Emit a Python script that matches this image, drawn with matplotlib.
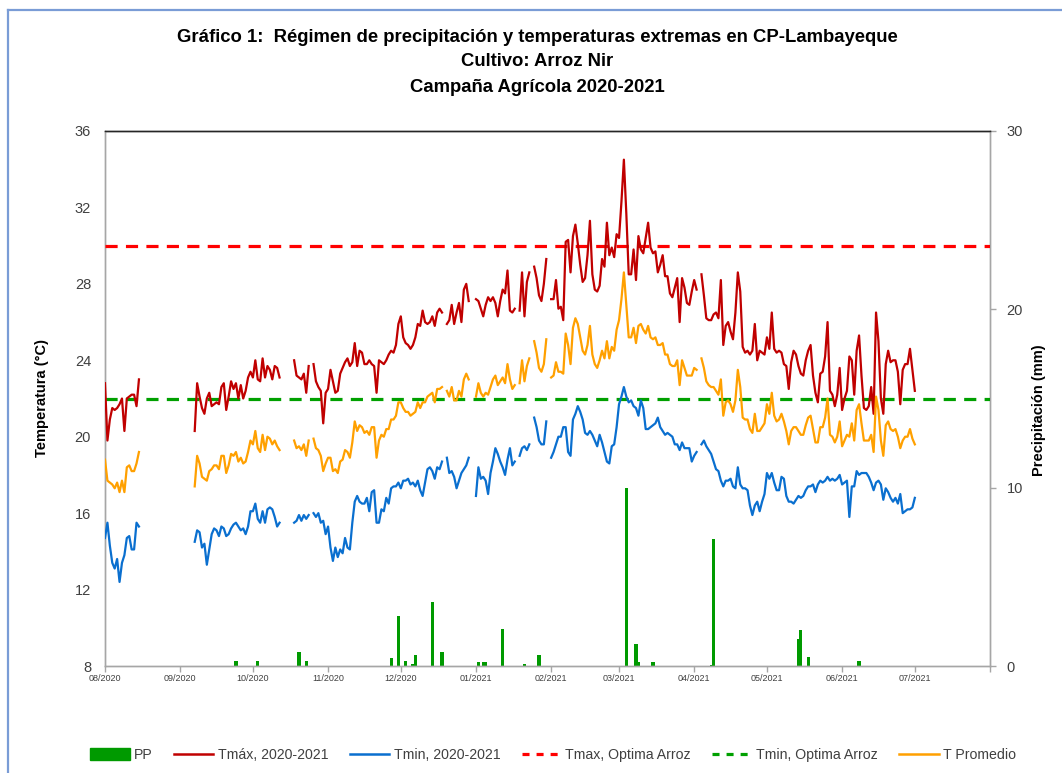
import numpy as np
import pandas as pd
import matplotlib
matplotlib.use("Agg")
import matplotlib.pyplot as plt
import matplotlib.dates as mdates
from matplotlib.lines import Line2D
from matplotlib.patches import Patch
from matplotlib import font_manager as fm

nan = float("nan")

# ---------------- data (daily, starting 2020-08-01) ----------------
start_date = "2020-08-01"

tmax = ([22.8, 19.8, 20.9, 21.5, 21.4, 21.5, 21.7, 22.0, 20.3, 22.0, 22.1, 22.2, 22.2, 21.6, 23.0]
        + [nan] * 22
        + [20.3, 22.8, 22.1, 21.5, 21.2, 22.0, 22.3, 21.6, 21.7, 21.8, 21.7, 22.6, 22.8, 21.4, 22.1, 22.9,
           22.5, 22.8, 22.0, 22.7, 22.0, 22.4, 23.1, 23.4, 23.1, 24.0, 23.0, 22.9, 24.1, 23.1, 23.7, 23.5,
           23.0, 23.7, 23.6, 23.1]
        + [nan] * 5
        + [24.0, 23.2, 23.1, 23.0, 23.3, 22.3, 23.7]
        + [nan]
        + [23.8, 22.9, 22.6, 22.4, 20.7, 22.3, 22.5, 23.5, 22.9, 22.3, 22.4, 23.3, 23.6, 23.9, 24.1, 23.7,
           23.9, 24.9, 23.7, 24.5, 24.4, 23.8, 23.8, 24.0, 23.8, 23.7, 22.3, 24.0, 23.9, 23.8, 24.0, 24.3,
           24.5, 24.4, 24.8, 25.9, 26.3, 25.2, 24.9, 24.8, 24.6, 24.8, 25.2, 25.9, 25.8, 26.6, 26.0, 25.9,
           26.0, 26.3, 25.8, 26.5, 26.7, 26.5]
        + [nan]
        + [25.9, 26.1, 26.9, 25.9, 26.5, 27.0, 26.0, 27.7, 28.0, 27.1]
        + [nan] * 2
        + [27.2, 27.1, 26.7, 26.3, 26.9, 27.3, 27.1, 27.3, 27.0, 26.3, 27.1, 27.7, 27.5, 28.7, 26.6, 26.5, 26.7]
        + [nan]
        + [26.6, 28.6, 26.3, 28.1, 28.6]
        + [nan]
        + [28.9, 28.3, 27.4, 27.1, 28.0, 29.3]
        + [nan]
        + [27.2, 27.2, 28.2, 26.7, 26.8, 26.1, 30.2, 30.3, 28.6, 30.5, 31.1, 30.1, 29.0, 28.1, 28.3, 29.5,
           31.3, 28.5, 27.7, 27.6, 27.9, 29.3, 28.9, 31.2, 29.5, 29.9, 29.4, 30.6, 30.4, 32.3, 34.5, 31.7,
           28.5, 28.5, 29.8, 28.2, 30.5, 29.8, 29.6, 30.4, 31.2,
           29.9, 29.6, 29.7, 28.6, 29.0, 29.5, 28.4, 28.4, 27.5, 27.3, 27.8, 28.3, 26.0, 28.3, 27.8, 27.0,
           26.9, 27.6, 28.2, 27.7]
        + [nan]
        + [28.5, 27.4, 26.2, 26.1, 26.1, 26.4, 26.5, 26.2, 28.2, 24.8, 25.8, 26.0, 25.5, 25.1, 26.5, 28.6,
           27.6, 24.7, 24.4, 24.5, 24.3, 24.5, 25.9, 24.0, 24.5, 24.4, 24.3, 25.2, 24.6, 26.5, 24.6, 24.4,
           24.5, 24.4, 23.8, 23.7, 22.5, 23.9, 24.5, 24.3, 23.7, 23.3, 23.2, 24.0, 24.5, 24.8, 23.2, 22.3,
           21.8, 23.3, 23.4, 24.2,
           26.0, 22.4, 22.2, 21.6, 22.2, 23.6, 21.4, 22.0, 22.4, 24.2, 24.0, 22.2, 24.5, 25.3, 23.2, 21.5,
           21.4, 21.6, 22.6, 21.2, 26.5, 25.0, 22.0, 21.2, 23.8, 24.5, 23.9, 24.0, 24.0, 23.4, 21.7, 23.5,
           23.8, 23.8, 24.6, 23.5, 22.4])

tmin = ([14.7, 15.5, 14.3, 13.4, 13.1, 13.6, 12.4, 13.4, 13.8, 14.7, 14.8, 14.1, 14.1, 15.5, 15.3]
        + [nan] * 22
        + [14.5, 15.1, 15.0, 14.2, 14.4, 13.3, 14.1, 14.9, 15.2, 15.1, 14.8, 15.3, 15.2, 14.8, 14.9, 15.2,
           15.4, 15.5, 15.3, 15.1, 15.2, 14.9, 15.3, 16.1, 16.1, 16.5, 15.7, 15.5, 16.1, 15.5, 16.2, 16.3,
           16.2, 15.8, 15.3, 15.5]
        + [nan] * 5
        + [15.5, 15.6, 15.9, 15.6, 15.9, 15.7, 15.9]
        + [nan]
        + [16.0, 15.8, 16.0, 15.5, 15.6, 14.9, 15.3, 14.2, 13.5, 14.2, 13.7, 14.1, 13.9, 14.7, 14.2, 14.1,
           15.5, 16.6, 16.9, 16.6, 16.5, 16.5, 16.8, 16.1, 17.1, 17.2, 15.5, 15.5, 16.2, 16.1, 16.8, 16.5,
           17.3, 17.4, 17.4, 17.6, 17.3, 17.7, 17.7, 17.8, 17.5, 17.6, 17.4, 17.7, 17.2, 16.9, 17.6, 18.3,
           18.4, 18.2, 17.8, 18.4, 18.3, 18.7]
        + [nan]
        + [18.9, 18.1, 18.2, 17.9, 17.3, 17.7, 18.1, 18.3, 18.5, 18.9]
        + [nan] * 2
        + [16.9, 18.4, 17.8, 17.9, 17.7, 17.0, 18.1, 18.7, 19.4, 19.1, 18.7, 18.4, 18.0, 18.8, 19.4, 18.5, 18.7]
        + [nan]
        + [19.0, 19.4, 19.5, 19.3, 19.6]
        + [nan]
        + [21.0, 20.5, 19.8, 19.6, 19.6, 20.8]
        + [nan]
        + [18.9, 19.2, 19.6, 20.0, 20.0, 20.5, 20.5, 19.2, 19.0, 20.9, 21.2, 21.6, 21.3, 20.9, 20.2, 20.1,
           20.3, 20.1, 19.8, 19.5, 20.1, 19.7, 19.2, 18.7, 18.6, 19.5, 19.6, 20.5, 21.7, 22.1, 22.6, 22.1,
           21.8, 21.9, 21.6, 21.5, 21.1, 21.9, 21.5, 20.4, 20.4,
           20.5, 20.6, 20.7, 21.0, 20.5, 20.3, 20.1, 20.2, 20.1, 20.0, 19.6, 19.6, 19.3, 19.7, 19.4, 19.4,
           19.4, 18.7, 19.0, 19.2]
        + [nan]
        + [19.6, 19.8, 19.5, 19.3, 19.1, 18.7, 18.3, 18.2, 17.7, 17.4, 17.7, 17.7, 17.8, 17.4, 17.3, 18.4,
           17.5, 17.3, 17.3, 17.2, 16.4, 15.9, 16.4, 16.6, 16.1, 16.6, 17.0, 18.1, 17.8, 18.1, 17.6, 17.2,
           17.2, 17.9, 17.8, 16.9, 16.6, 16.6, 16.5, 16.7, 16.9, 16.8, 16.9, 17.2, 17.4, 17.4, 17.5, 17.1,
           17.5, 17.7, 17.6, 17.7,
           17.9, 17.7, 17.8, 17.7, 17.8, 18.0, 17.5, 17.6, 17.7, 15.8, 17.4, 17.4, 18.2, 18.0, 18.1, 18.1,
           18.1, 17.9, 17.6, 17.2, 17.6, 17.7, 17.5, 16.7, 17.3, 17.1, 16.8, 16.6, 16.8, 16.5, 17.0, 16.0,
           16.1, 16.2, 16.2, 16.3, 16.8])

tprom = ([18.8, 17.7, 17.6, 17.5, 17.3, 17.6, 17.1, 17.7, 17.1, 18.4, 18.5, 18.2, 18.2, 18.6, 19.2]
         + [nan] * 22
         + [17.4, 19.0, 18.6, 17.9, 17.8, 17.7, 18.2, 18.3, 18.5, 18.5, 18.3, 19.0, 19.0, 18.1, 18.5, 19.1,
            19.0, 19.2, 18.7, 18.9, 18.6, 18.7, 19.2, 19.8, 19.6, 20.3, 19.4, 19.2, 20.1, 19.3, 20.0, 19.9,
            19.6, 19.8, 19.5, 19.3]
         + [nan] * 5
         + [19.8, 19.4, 19.5, 19.3, 19.6, 19.0, 19.8]
         + [nan]
         + [19.9, 19.4, 19.3, 19.0, 18.2, 18.6, 18.9, 18.9, 18.2, 18.3, 18.1, 18.7, 18.8, 19.3, 19.2, 18.9,
            19.7, 20.8, 20.3, 20.6, 20.5, 20.2, 20.3, 20.1, 20.5, 20.5, 18.9, 19.8, 20.1, 20.0, 20.4, 20.4,
            20.9, 20.9, 21.1, 21.8, 21.8, 21.5, 21.3, 21.3, 21.1, 21.2, 21.3, 21.8, 21.5, 21.8, 21.8, 22.1,
            22.2, 22.3, 21.8, 22.5, 22.5, 22.6]
         + [nan]
         + [22.4, 22.1, 22.6, 21.9, 21.9, 22.4, 22.1, 23.0, 23.3, 23.0]
         + [nan] * 2
         + [22.1, 22.8, 22.3, 22.1, 22.3, 22.2, 22.6, 23.0, 23.2, 22.7, 22.9, 23.1, 22.8, 23.8, 23.0, 22.5, 22.7]
         + [nan]
         + [22.8, 24.0, 22.9, 23.7, 24.1]
         + [nan]
         + [25.0, 24.4, 23.6, 23.4, 23.8, 25.1]
         + [nan]
         + [23.1, 23.2, 23.9, 23.4, 23.4, 23.3, 25.4, 24.8, 23.8, 25.7, 26.2, 25.9, 25.2, 24.5, 24.3, 24.8,
            25.8, 24.3, 23.8, 23.6, 24.0, 24.5, 24.1, 25.0, 24.1, 24.7, 24.5, 25.6, 26.1, 27.2, 28.6, 26.9,
            25.2, 25.2, 25.7, 24.9, 25.8, 25.9, 25.6, 25.4, 25.8,
            25.2, 25.1, 25.2, 24.8, 24.8, 24.9, 24.3, 24.3, 23.8, 23.7, 23.7, 24.0, 22.7, 24.0, 23.6, 23.2,
            23.2, 23.2, 23.6, 23.5]
         + [nan]
         + [24.1, 23.6, 22.9, 22.7, 22.6, 22.6, 22.4, 22.2, 23.0, 21.1, 21.8, 21.9, 21.7, 21.3, 21.9, 23.5,
            22.6, 21.0, 20.9, 20.9, 20.4, 20.2, 21.2, 20.3, 20.3, 20.5, 20.7, 21.7, 21.2, 22.3, 21.1, 20.8,
            20.9, 21.2, 20.8, 20.3, 19.6, 20.3, 20.5, 20.5, 20.3, 20.1, 20.1, 20.6, 21.0, 21.1, 20.4, 19.7,
            19.7, 20.5, 20.5, 21.0,
            22.0, 20.1, 20.0, 19.7, 20.0, 20.8, 19.5, 19.8, 20.1, 20.0, 20.7, 19.8, 21.4, 21.7, 20.7, 19.8,
            19.8, 19.8, 20.1, 19.2, 22.1, 21.4, 19.8, 19.0, 20.6, 20.8, 20.4, 20.3, 20.4, 20.0, 19.4, 19.8,
            20.0, 20.0, 20.4, 19.9, 19.6])

pp_dates = ["2020-09-24", "2020-10-03", "2020-10-20", "2020-10-23", "2020-11-27", "2020-11-30",
            "2020-12-03", "2020-12-06", "2020-12-07", "2020-12-14", "2020-12-18", "2021-01-02",
            "2021-01-04", "2021-01-05", "2021-01-12", "2021-01-21", "2021-01-27", "2021-03-04",
            "2021-03-08", "2021-03-09", "2021-03-15", "2021-04-08", "2021-04-09", "2021-05-14",
            "2021-05-15", "2021-05-18", "2021-06-08"]
pp_mm = [0.3, 0.3, 0.8, 0.3, 0.45, 2.8, 0.3, 0.1, 0.6, 3.6, 0.8, 0.2, 0.2, 0.2, 2.1, 0.1, 0.6,
         10.0, 1.25, 0.25, 0.25, 0.07, 7.1, 1.5, 2.0, 0.5, 0.3]

tmax_optima = 30
tmin_optima = 22

title_lines = ["Gráfico 1:  Régimen de precipitación y temperaturas extremas en CP-Lambayeque",
               "Cultivo: Arroz Nir",
               "Campaña Agrícola 2020-2021"]
legend_labels = ["PP", "Tmáx, 2020-2021", "Tmin, 2020-2021", "Tmax, Optima Arroz",
                 "Tmin, Optima Arroz", "T Promedio"]

# ---------------- styling ----------------
names = {f.name for f in fm.fontManager.ttflist}
narrow = "Liberation Sans Narrow" if "Liberation Sans Narrow" in names else "Liberation Sans"
plt.rcParams["font.family"] = [narrow, "DejaVu Sans"]

C_TMAX = "#C00000"
C_TMIN = "#0A6FCF"
C_PROM = "#FFA000"
C_RED = "#FF0000"
C_GREEN = "#00A000"
C_PP = "#009A00"
C_AX = "#A6A6A6"
C_TXT = "#404040"

W, H = 1062, 773
fig = plt.figure(figsize=(W / 100, H / 100), dpi=100)

# outer frame (top and left edges visible)
fig.add_artist(Line2D([8 / W, 8 / W], [0, 1 - 10 / H], transform=fig.transFigure,
                      color="#7A9CD6", lw=1.6))
fig.add_artist(Line2D([8 / W, 1], [1 - 10 / H, 1 - 10 / H], transform=fig.transFigure,
                      color="#7A9CD6", lw=1.6))

ax = fig.add_axes([105 / W, 1 - 666 / H, 885 / W, 535 / H])
ax2 = ax.twinx()

dates = pd.date_range(start_date, periods=len(tmax), freq="D")

# precipitation bars (secondary axis)
ax2.bar(pd.to_datetime(pp_dates), pp_mm, width=1.3, color=C_PP, align="center", zorder=2)
ax2.set_ylim(0, 30)
ax2.set_yticks([0, 10, 20, 30])

# temperature lines
ax.axhline(tmax_optima, color=C_RED, lw=2.3, ls=(0, (3.8, 2.6)), zorder=3)
ax.axhline(tmin_optima, color=C_GREEN, lw=2.3, ls=(0, (3.8, 2.6)), zorder=3)
ax.plot(dates, tmax, color=C_TMAX, lw=1.6, zorder=4)
ax.plot(dates, tmin, color=C_TMIN, lw=1.6, zorder=4)
ax.plot(dates, tprom, color=C_PROM, lw=1.6, zorder=4)

ax.set_zorder(ax2.get_zorder() + 1)
ax.patch.set_visible(False)

ax.set_ylim(8, 36)
ax.set_yticks(range(8, 37, 4))
ax.set_xlim(pd.Timestamp("2020-08-01"), pd.Timestamp("2021-08-01"))
ax.xaxis.set_major_locator(mdates.MonthLocator())
month_fmt = mdates.DateFormatter("%m/%Y")
last_tick = mdates.date2num(pd.Timestamp("2021-08-01"))
ax.xaxis.set_major_formatter(plt.FuncFormatter(
    lambda v, p: "" if abs(v - last_tick) < 0.5 else month_fmt(v, p)))

for a in (ax, ax2):
    for s in a.spines.values():
        s.set_color(C_AX)
        s.set_linewidth(1.0)
ax.spines["top"].set_color("#262626")
ax2.spines["top"].set_color("#262626")

ax.tick_params(axis="y", length=0, labelsize=10.5, labelcolor=C_TXT, pad=10)
ax.tick_params(axis="x", length=4, width=1, color=C_AX, labelsize=6.5, labelcolor=C_TXT, pad=2)
ax2.tick_params(axis="y", length=4, width=1, color=C_AX, labelsize=10.5, labelcolor=C_TXT, pad=8)
for lbl in ax.get_yticklabels() + ax2.get_yticklabels():
    lbl.set_family(["Liberation Sans", "DejaVu Sans"])
for lbl in ax.get_xticklabels():
    lbl.set_family(["Liberation Sans", "DejaVu Sans"])

# axis titles
fig.text(42 / W, 1 - 398 / H, "Temperatura (°C)", rotation=90, ha="center", va="center",
         fontsize=10.5, fontweight="bold", color="black")
fig.text(1039 / W, 1 - 410 / H, "Precipitación (mm)", rotation=90, ha="center", va="center",
         fontsize=10.5, fontweight="bold", color="black")

# titles
for t, yy in zip(title_lines, [38, 62, 88]):
    fig.text(537 / W, 1 - yy / H, t, ha="center", va="center", fontsize=13.3,
             fontweight="bold", color="black")

# legend
handles = [Patch(facecolor=C_PP, edgecolor=C_PP),
           Line2D([], [], color=C_TMAX, lw=1.8),
           Line2D([], [], color=C_TMIN, lw=1.8),
           Line2D([], [], color=C_RED, lw=2.3, ls=(0, (2.2, 2.2))),
           Line2D([], [], color=C_GREEN, lw=2.3, ls=(0, (2.2, 2.2))),
           Line2D([], [], color=C_PROM, lw=1.8)]
leg = fig.legend(handles, legend_labels, loc="center", bbox_to_anchor=(553 / W, 1 - 755 / H),
                 ncol=6, frameon=False, fontsize=10.2, handlelength=2.8, handletextpad=0.3,
                 columnspacing=1.5, handleheight=0.9)
for t in leg.get_texts():
    t.set_color(C_TXT)

fig.savefig("out.png", dpi=100)
